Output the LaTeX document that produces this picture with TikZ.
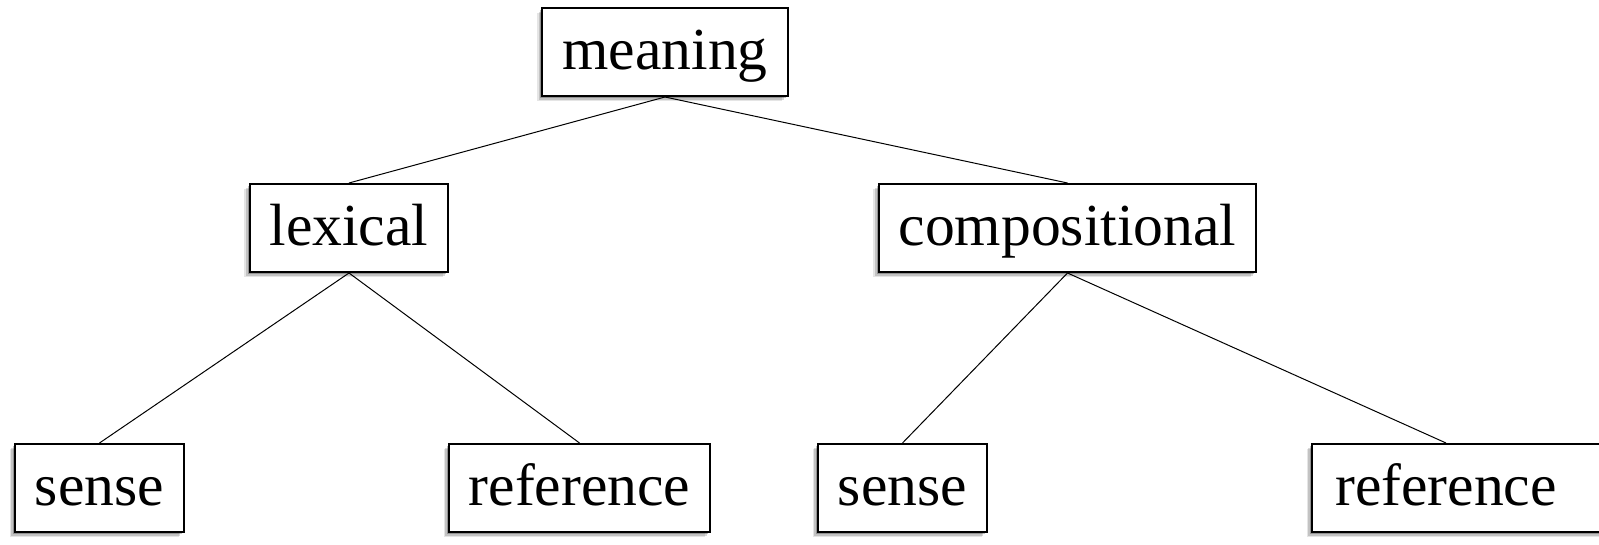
\documentclass[tikz,border=0pt]{standalone}
\usepackage{fontspec}
\setmainfont{Liberation Serif}
\usetikzlibrary{shadows}

\tikzset{
  termbox/.style={draw,line width=1pt,fill=white,minimum height=44pt,inner xsep=10pt,
    text height=23.8pt,text depth=6pt,font=\fontsize{29.8}{34}\selectfont,
    general shadow={fill=black,opacity=.10,shadow xshift=-2.6pt,shadow yshift=-2.6pt},
    general shadow={fill=black,opacity=.15,shadow xshift=-1.8pt,shadow yshift=-1.8pt},
    general shadow={fill=black,opacity=.25,shadow xshift=-1pt,shadow yshift=-1pt}},
  branch/.style={line width=0.5pt}
}

\begin{document}
\begin{tikzpicture}[x=0.5pt,y=-0.5pt]
  \node[termbox] (M) at (665,52) {meaning};
  \node[termbox] (L) at (349,228) {lexical};
  \node[termbox] (C) at (1067.5,228) {compositional};
  \node[termbox] (LS) at (99.5,488) {sense};
  \node[termbox] (LR) at (579.5,488) {reference};
  \node[termbox] (CS) at (902.5,488) {sense};
  % box runs past the right edge
  \node[termbox,minimum width=160pt] (CR) at (1472,488) {reference\rule{26pt}{0pt}};
  \draw[branch] (M.south) -- (L.north);
  \draw[branch] (M.south) -- (C.north);
  \draw[branch] (L.south) -- (LS.north);
  \draw[branch] (L.south) -- (LR.north);
  \draw[branch] (C.south) -- (CS.north);
  \draw[branch] (C.south) -- ([xshift=-13pt]CR.north);
  \pgfresetboundingbox
  \useasboundingbox (0,0) rectangle (1599,545);
\end{tikzpicture}
\end{document}
